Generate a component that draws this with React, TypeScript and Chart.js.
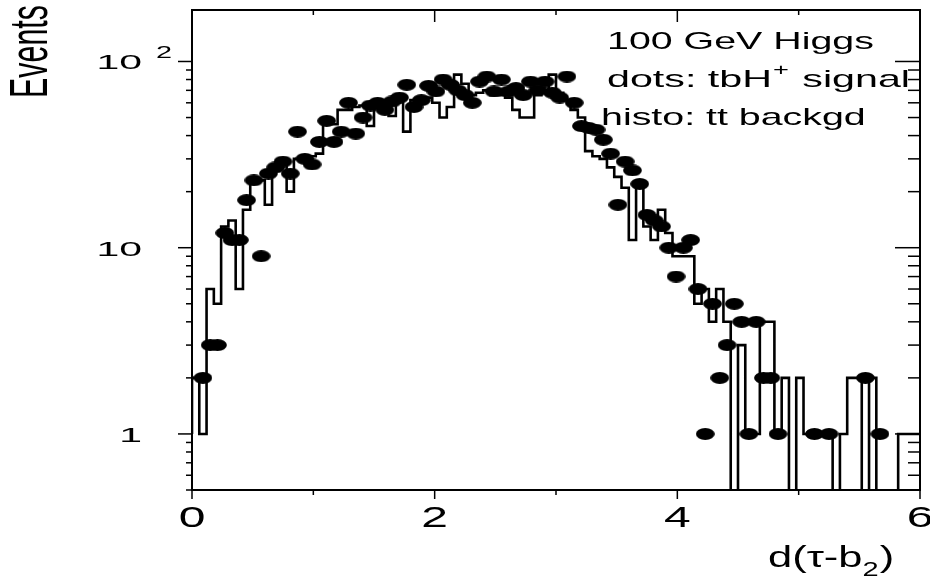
import React, { useEffect, useRef } from 'react';
import { Chart, registerables } from 'chart.js';

Chart.register(...registerables);

// ---------- data ----------
const X_MIN = 0;
const X_MAX = 6;
const BIN_WIDTH = 0.06;
const Y_MIN = 0.5;
const Y_MAX = 189;

// tt background histogram (events per bin, 100 bins of 0.06)
const background: number[] = [
  1, 2, 1, 6, 5, 13, 14, 6, 16, 23,
  23, 17, 28, 30, 20, 30, 30, 31, 32, 46,
  46, 55, 55, 57, 58, 45, 58, 60, 51, 62,
  42, 62, 62, 64, 60, 50, 57, 85, 76, 66,
  68, 70, 66, 66, 64, 55, 50, 50, 66, 68,
  85, 68, 62, 55, 50, 33, 31, 30, 27, 24,
  21, 11, 22, 13, 11, 16, 12, 9, 9, 9,
  5, 6, 4, 6, 4, 0, 3, 1, 1, 4,
  4, 1, 2, 0, 2, 1, 1, 1, 1, 0,
  1, 2, 2, 0, 2, 0, 0, 0, 1, 1,
];

// tbH+ signal (dots), same binning
const signal: number[] = [
  0, 2, 3, 3, 12, 11, 11, 18, 23, 9,
  25, 27, 29, 25, 42, 30, 28, 37, 48, 37,
  42, 60, 41, 50, 58, 60, 55, 61, 64, 75,
  57, 62, 74, 69, 80, 75, 70, 66, 60, 78,
  83, 69, 80, 69, 72, 66, 78, 70, 78, 68,
  64, 83, 60, 45, 44, 43, 38, 32, 17, 29,
  26, 22, 15, 14, 13, 10, 7, 10, 11, 6,
  1, 5, 2, 3, 5, 4, 1, 4, 2, 2,
  1, 0, 0, 0, 0, 1, 0, 1, 0, 0,
  0, 0, 2, 0, 1, 0, 0, 0, 0, 0,
];

const xTickValues = [0, 1, 2, 3, 4, 5, 6];
const xTickLabels: Record<number, string> = { 0: '0', 2: '2', 4: '4', 6: '6' };
const yDecades = [0.1, 1, 10, 100];
const yTickLabels: Record<number, string> = { 1: '1', 10: '10', 100: '10' };

const legendLines = ['100 GeV Higgs', 'dots: tbH', 'histo: tt backgd'];
const yTitle = 'Events';

const FONT = '"Liberation Sans", Arial, Helvetica, sans-serif';
const ZERO_FLOOR = 0.2; // empty bins are drawn down below the axis

function makeDot(): HTMLCanvasElement {
  const c = document.createElement('canvas');
  c.width = 19;
  c.height = 12;
  const g = c.getContext('2d')!;
  g.fillStyle = '#000';
  g.beginPath();
  g.ellipse(9.5, 6, 9.4, 5.9, 0, 0, Math.PI * 2);
  g.fill();
  return c;
}

function textW(ctx: CanvasRenderingContext2D, s: string, size: number) {
  ctx.save();
  ctx.font = `${size}px ${FONT}`;
  const w = ctx.measureText(s).width;
  ctx.restore();
  return w;
}

// draw horizontally stretched text, left aligned at x, alphabetic baseline at y
function drawStretched(
  ctx: CanvasRenderingContext2D,
  s: string,
  x: number,
  y: number,
  size: number,
  sx: number,
): number {
  ctx.save();
  ctx.font = `${size}px ${FONT}`;
  ctx.textAlign = 'left';
  ctx.textBaseline = 'alphabetic';
  const w = ctx.measureText(s).width * sx;
  ctx.translate(x, y);
  ctx.scale(sx, 1);
  ctx.fillText(s, 0, 0);
  ctx.restore();
  return w;
}

const framePlugin = {
  id: 'higzFrame',
  afterDraw(chart: any) {
    const { ctx, chartArea: ca, scales } = chart;
    const xs = scales.x;
    const ys = scales.y;
    ctx.save();
    ctx.strokeStyle = '#000';
    ctx.fillStyle = '#000';
    const seg = (x1: number, y1: number, x2: number, y2: number) => {
      ctx.beginPath();
      ctx.moveTo(x1, y1);
      ctx.lineTo(x2, y2);
      ctx.stroke();
    };

    // frame
    ctx.lineWidth = 2;
    ctx.strokeRect(ca.left, ca.top, ca.right - ca.left, ca.bottom - ca.top);

    // x ticks
    ctx.lineWidth = 1.5;
    for (const v of xTickValues) {
      const px = xs.getPixelForValue(v);
      const major = v % 2 === 0;
      seg(px, ca.bottom, px, ca.bottom + (major ? 9 : 5));
      seg(px, ca.top, px, ca.top + (major ? 12 : 5));
    }
    // y ticks
    for (const d of yDecades) {
      for (let m = 1; m <= 9; m++) {
        const v = m * d;
        if (v < Y_MIN - 1e-9 || v > Y_MAX) continue;
        const py = ys.getPixelForValue(v);
        const major = m === 1;
        seg(ca.left - (major ? 14 : 6), py, ca.left, py);
        seg(ca.right - (major ? 25 : 12), py, ca.right, py);
      }
    }

    // x tick labels
    const tickSize = 30;
    const tickSx = 1.6;
    for (const v of xTickValues) {
      const lab = xTickLabels[v];
      if (!lab) continue;
      const px = xs.getPixelForValue(v);
      const w = textW(ctx, lab, tickSize) * tickSx;
      drawStretched(ctx, lab, px - w / 2, 527, tickSize, tickSx);
    }
    // y tick labels (right aligned)
    for (const key of Object.keys(yTickLabels)) {
      const v = Number(key);
      const lab = yTickLabels[v];
      const py = ys.getPixelForValue(v);
      const w = textW(ctx, lab, 21) * 1.95;
      drawStretched(ctx, lab, 142 - w, py + 8, 21, 1.95);
      if (v === 100) {
        drawStretched(ctx, '2', 156, py - 3, 16, 1.8);
      }
    }

    // y title (rotated, condensed)
    {
      const size = 54;
      const natural = textW(ctx, yTitle, size);
      const sx = 93 / natural;
      ctx.save();
      ctx.translate(47, 98);
      ctx.rotate(-Math.PI / 2);
      drawStretched(ctx, yTitle, 0, 0, size, sx);
      ctx.restore();
    }

    // x title d(τ-b2)
    {
      const size = 30;
      const sx = 1.45;
      let x = 768;
      const base = 567;
      x += drawStretched(ctx, 'd(τ-b', x, base, size, sx);
      x += drawStretched(ctx, '2', x, base + 9, 20, sx);
      drawStretched(ctx, ')', x + 1, base, size, sx);
    }

    // legend text
    {
      const size = 24;
      const sx = 1.64;
      drawStretched(ctx, legendLines[0], 607, 49, size, sx);
      // second line spans 607..910 with a raised "+"
      const plusAdv = textW(ctx, '+', 17) * 1.6 + 3;
      const sx2 = (910 - 607 - plusAdv) / (textW(ctx, legendLines[1], size) + textW(ctx, ' signal', size));
      let x = 607;
      x += drawStretched(ctx, legendLines[1], x, 87, size, sx2);
      drawStretched(ctx, '+', x + 1, 75, 17, 1.6);
      x += plusAdv;
      drawStretched(ctx, ' signal', x, 87, size, sx2);
      drawStretched(ctx, legendLines[2], 601, 125, size, sx);
    }
    ctx.restore();
  },
};

export default function App() {
  const ref = useRef<HTMLCanvasElement | null>(null);

  useEffect(() => {
    if (!ref.current) return;
    const nb = background.length;
    const histPts = background.map((v, i) => ({ x: X_MIN + i * BIN_WIDTH, y: v > 0 ? v : ZERO_FLOOR }));
    histPts.push({ x: X_MIN + nb * BIN_WIDTH, y: background[nb - 1] > 0 ? background[nb - 1] : ZERO_FLOOR });
    const dotPts = signal
      .map((v, i) => ({ x: X_MIN + (i + 0.5) * BIN_WIDTH, y: v }))
      .filter((p) => p.y > 0);
    const dot = makeDot();

    const chart = new Chart(ref.current, {
      type: 'scatter',
      data: {
        datasets: [
          {
            label: 'tbH+ signal',
            data: dotPts,
            pointStyle: dot as any,
            pointRadius: 9,
            showLine: false,
          },
          {
            label: 'tt backgd',
            type: 'line',
            data: histPts,
            stepped: 'after',
            borderColor: '#000',
            borderWidth: 2.6,
            pointRadius: 0,
            fill: false,
            tension: 0,
          } as any,
        ],
      },
      options: {
        responsive: false,
        animation: false,
        events: [],
        layout: { padding: { left: 192, right: 8, top: 6, bottom: 91 } },
        plugins: { legend: { display: false }, tooltip: { enabled: false } },
        scales: {
          x: { type: 'linear', min: X_MIN, max: X_MAX, display: false },
          y: { type: 'logarithmic', min: Y_MIN, max: Y_MAX, display: false },
        },
      },
      plugins: [framePlugin],
    });
    return () => chart.destroy();
  }, []);

  return (
    <div style={{ position: 'fixed', left: 0, top: 0, width: 930, height: 581, background: '#fff' }}>
      <canvas ref={ref} width={930} height={581} style={{ width: 930, height: 581, display: 'block' }} />
    </div>
  );
}
